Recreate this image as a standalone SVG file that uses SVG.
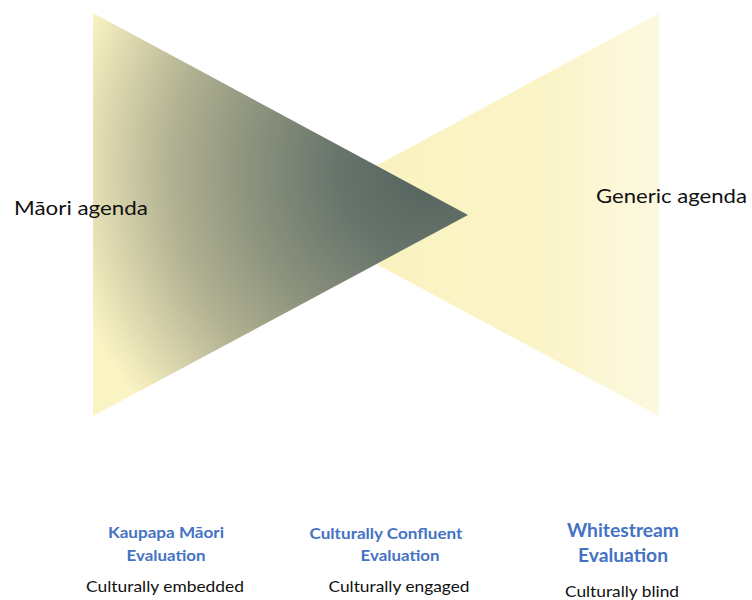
<svg xmlns="http://www.w3.org/2000/svg" width="752" height="600" viewBox="0 0 752 600">
<style>
  .agenda { font-family: Lato, "Open Sans", "Liberation Sans", sans-serif; font-size: 20px; fill: #111111; }
  .title { font-family: Lato, "Open Sans", "Liberation Sans", sans-serif; font-weight: bold; font-size: 16px; fill: #4472c4; text-anchor: middle; }
  .big { font-size: 18px; }
  .sub { font-family: Lato, "Open Sans", "Liberation Sans", sans-serif; font-size: 16px; fill: #111111; text-anchor: middle; }
</style>
<defs>
  <radialGradient id="gLeft" gradientUnits="userSpaceOnUse" cx="430" cy="170" r="372">
    <stop offset="0" stop-color="#53625d"/>
    <stop offset="0.25" stop-color="#68756c"/>
    <stop offset="0.5" stop-color="#8e947e"/>
    <stop offset="0.7" stop-color="#b2b292"/>
    <stop offset="0.85" stop-color="#d6d2aa"/>
    <stop offset="0.95" stop-color="#efe9bb"/>
    <stop offset="1" stop-color="#faf3c3"/>
  </radialGradient>
  <linearGradient id="gRight" gradientUnits="userSpaceOnUse" x1="285" y1="0" x2="659" y2="0">
    <stop offset="0" stop-color="#f9f1bb"/>
    <stop offset="0.7" stop-color="#fbf4c8"/>
    <stop offset="1" stop-color="#fdf9e0"/>
  </linearGradient>
</defs>
<rect width="752" height="600" fill="#ffffff"/>
<g id="generic-triangle">
  <polygon points="659,13 659,416 285,215" fill="url(#gRight)"/>
</g>
<g id="maori-triangle">
  <polygon points="93,13 93,416 468,215" fill="url(#gLeft)"/>
</g>
<g id="maori-agenda">
  <text class="agenda" x="14" y="215" textLength="134" lengthAdjust="spacingAndGlyphs">Māori agenda</text>
</g>
<g id="generic-agenda">
  <text class="agenda" x="596" y="203" textLength="151" lengthAdjust="spacingAndGlyphs">Generic agenda</text>
</g>
<g id="kaupapa">
  <text class="title" x="166" y="538" textLength="116" lengthAdjust="spacingAndGlyphs">Kaupapa Māori</text>
  <text class="title" x="166" y="561" textLength="79" lengthAdjust="spacingAndGlyphs">Evaluation</text>
  <text class="sub" x="165" y="592" textLength="158" lengthAdjust="spacingAndGlyphs">Culturally embedded</text>
</g>
<g id="confluent">
  <text class="title" x="386" y="539" textLength="153" lengthAdjust="spacingAndGlyphs">Culturally Confluent</text>
  <text class="title" x="400" y="561" textLength="79" lengthAdjust="spacingAndGlyphs">Evaluation</text>
  <text class="sub" x="399" y="592" textLength="141" lengthAdjust="spacingAndGlyphs">Culturally engaged</text>
</g>
<g id="whitestream">
  <text class="title big" x="623" y="537" textLength="112" lengthAdjust="spacingAndGlyphs">Whitestream</text>
  <text class="title big" x="623" y="562" textLength="90" lengthAdjust="spacingAndGlyphs">Evaluation</text>
  <text class="sub" x="622" y="597" textLength="114" lengthAdjust="spacingAndGlyphs">Culturally blind</text>
</g>
<g id="connectors"></g>
</svg>
